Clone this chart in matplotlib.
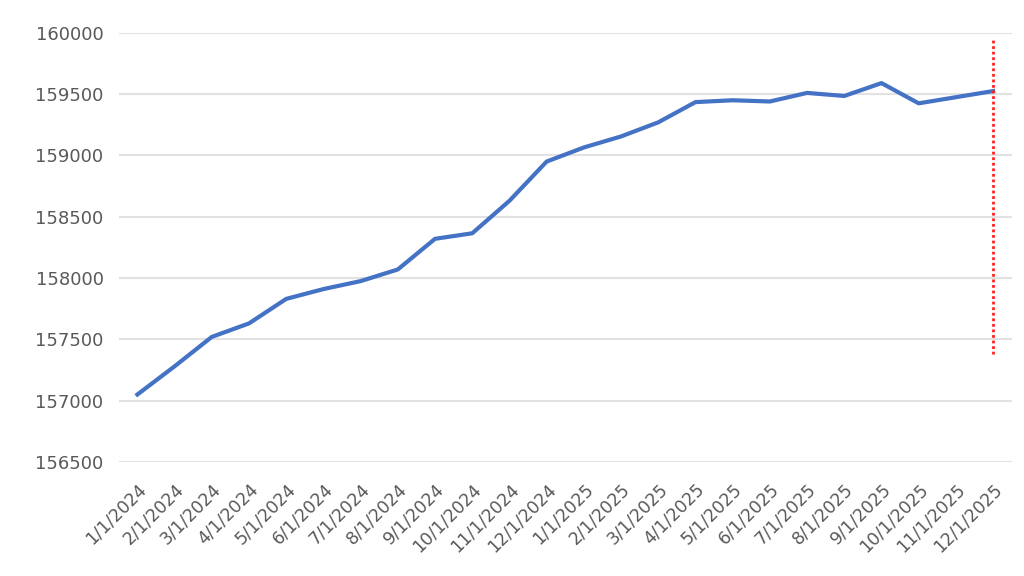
import matplotlib.pyplot as plt

months = ['1/1/2024', '2/1/2024', '3/1/2024', '4/1/2024', '5/1/2024', '6/1/2024',
          '7/1/2024', '8/1/2024', '9/1/2024', '10/1/2024', '11/1/2024', '12/1/2024',
          '1/1/2025', '2/1/2025', '3/1/2025', '4/1/2025', '5/1/2025', '6/1/2025',
          '7/1/2025', '8/1/2025', '9/1/2025', '10/1/2025', '11/1/2025', '12/1/2025']
values = [157050, 157280, 157520, 157630, 157830, 157910,
          157975, 158070, 158320, 158365, 158630, 158950,
          159065, 159155, 159270, 159435, 159450, 159440,
          159510, 159485, 159590, 159425, 159475, 159525]
marker_month = 23
marker_range = [157380, 159950]
yticks = [156500, 157000, 157500, 158000, 158500, 159000, 159500, 160000]

fig = plt.figure(figsize=(10.24, 5.76), dpi=100)
ax = fig.add_axes([0.116, 0.198, 0.872, 0.745])

x = list(range(len(months)))
ax.plot(x, values, color='#4472C4', linewidth=3, solid_joinstyle='round', zorder=3)
ax.vlines(marker_month, marker_range[0], marker_range[1], colors='#FF2020',
          linestyles=(0, (1, 1)), linewidth=2, zorder=4)

ax.set_xlim(-0.5, len(months) - 0.5)
ax.set_ylim(yticks[0], yticks[-1])
ax.set_yticks(yticks)
ax.set_xticks(x)
ax.set_xticklabels(months, rotation=45, ha='right', rotation_mode='anchor')

ax.grid(axis='y', color='#E2E2E2', linewidth=1.5)
ax.set_axisbelow(True)
for s in ax.spines.values():
    s.set_visible(False)
ax.tick_params(axis='both', length=0, labelsize=13, labelcolor='#595959')
ax.tick_params(axis='y', pad=11)
ax.tick_params(axis='x', labelsize=12.5, pad=13)

fig.savefig('out.png', dpi=100)
